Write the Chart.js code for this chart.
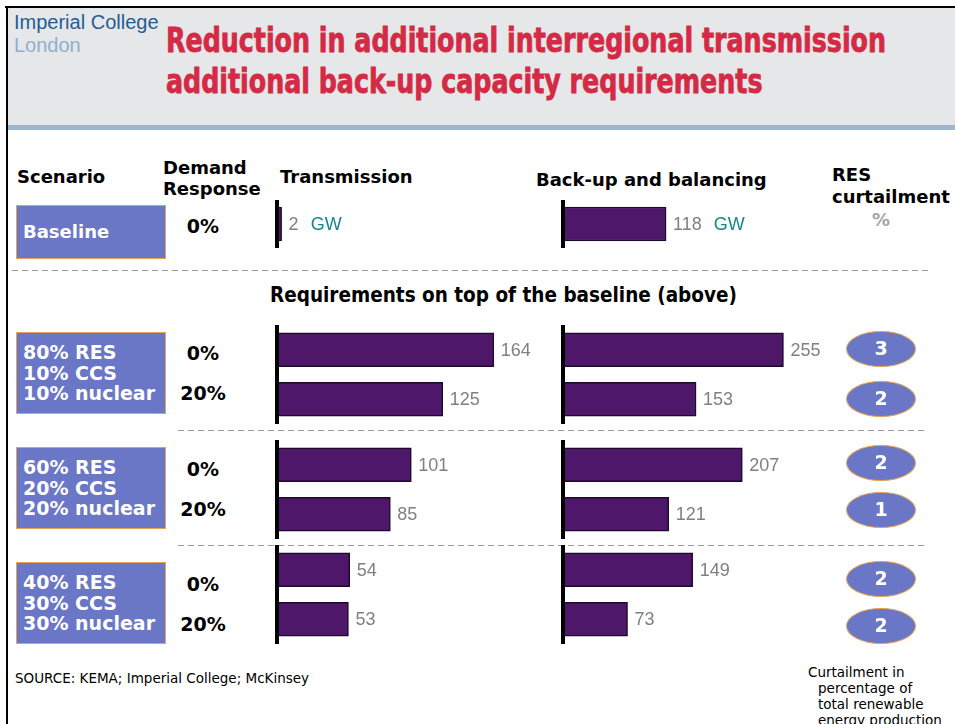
<!DOCTYPE html>
<html>
<head>
<meta charset="utf-8">
<script src="https://cdn.jsdelivr.net/npm/chart.js@4.4.1/dist/chart.umd.min.js"></script>
<style>
  html, body { margin: 0; padding: 0; background: #fff; }
  #page { position: relative; width: 955px; height: 724px; overflow: hidden; background: #fff;
          font-family: "DejaVu Sans", Verdana, sans-serif; }
  .abs { position: absolute; white-space: nowrap; }
  .hdr { font-weight: bold; font-size: 18px; line-height: 1; color: #000; }
  .box { position: absolute; left: 16px; width: 150px; box-sizing: border-box; background: #6a76c6;
         border: 1.5px solid #e4a456; color: #fff; font-weight: bold; font-size: 19px; line-height: 20.5px;
         display: flex; flex-direction: column; justify-content: center; padding-left: 6px; }
  .dr { position: absolute; width: 80px; margin-left: -40px; text-align: center; font-weight: bold; font-size: 19px; line-height: 1; }
  .dash { position: absolute; height: 1px; background: repeating-linear-gradient(to right, #9a9a9a 0 6px, transparent 6px 10px); }
  .ell { position: absolute; width: 70px; height: 36px; margin-left: -35px; margin-top: -18px; box-sizing: border-box;
         border-radius: 50%; background: #6a76c6; border: 1.5px solid #e4a456; color: #fff; font-weight: bold;
         font-size: 19px; line-height: 33px; text-align: center; }
  .cv { position: absolute; }
  .title { font-family: "Liberation Sans Narrow", "DejaVu Sans Condensed", "Liberation Sans", sans-serif; font-weight: bold;
           font-size: 34px; line-height: 1; color: #d42a45; -webkit-text-stroke: 0.8px #d42a45; transform-origin: 0 0; }
</style>
</head>
<body>
<div id="page">
  <div class="abs" style="left:5px;top:6px;width:950px;height:2px;background:#000"></div>
  <div class="abs" style="left:6px;top:6px;width:2px;height:718px;background:#000"></div>
  <div class="abs" style="left:8px;top:8px;width:947px;height:117px;background:#e6e7e8"></div>
  <div class="abs" style="left:8px;top:125px;width:947px;height:5px;background:#9db6cd"></div>

  <div class="abs" style="left:14px;top:12px;font:20px/1 'Liberation Sans',Arial,sans-serif;color:#1f5e96">Imperial College</div>
  <div class="abs" style="left:14px;top:35px;font:20px/1 'Liberation Sans',Arial,sans-serif;color:#8fb0cf">London</div>
  <div class="abs title" id="t1" style="left:166px;top:23px">Reduction in additional interregional transmission</div>
  <div class="abs title" id="t2" style="left:166px;top:64px">additional back-up capacity requirements</div>

  <div class="abs hdr" style="left:17px;top:168px">Scenario</div>
  <div class="abs hdr" style="left:163px;top:157px;line-height:21px">Demand<br>Response</div>
  <div class="abs hdr" style="left:280px;top:168px">Transmission</div>
  <div class="abs hdr" style="left:536px;top:171px">Back-up and balancing</div>
  <div class="abs hdr" style="left:832px;top:164px;line-height:22px">RES<br>curtailment</div>
  <div class="abs hdr" style="left:872px;top:211px;color:#a6a6a6">%</div>

  <div class="box" style="top:205px;height:54px;font-size:18px">Baseline</div>
  <div class="dr" style="left:203px;top:217px">0%</div>

  <div class="dash" style="left:12px;top:270px;width:918px"></div>
  <div class="abs hdr" style="left:270px;top:285px;font-size:20.5px;font-family:'DejaVu Sans Condensed','DejaVu Sans',sans-serif">Requirements on top of the baseline (above)</div>

  <div class="dash" style="left:178px;top:430px;width:750px"></div>
  <div class="dash" style="left:178px;top:545px;width:750px"></div>

  <div class="abs" style="left:15px;top:672px;font-size:13.5px;line-height:1">SOURCE: KEMA; Imperial College; McKinsey</div>
  <div class="abs" style="left:808px;top:664px;font-size:13.5px;line-height:16px">Curtailment in<br><span style="padding-left:10px">percentage of</span><br><span style="padding-left:10px">total renewable</span><br><span style="padding-left:10px">energy production</span></div>
</div>

<script>
// scenarios and values
const scenarioLabels = [
  ['80% RES', '10% CCS', '10% nuclear'],
  ['60% RES', '20% CCS', '20% nuclear'],
  ['40% RES', '30% CCS', '30% nuclear']
];
const demandLevels = ['0%', '20%'];
const baselineLevels = ['0%'];
const baselineTransmission = [2];
const baselineBackup = [118];
const transmissionGW = [164, 125, 101, 85, 54, 53];
const backupGW = [255, 153, 207, 121, 149, 73];
const curtailmentPct = [3, 2, 2, 1, 2, 2];
const unitLabel = 'GW';

// layout
const groupTops = [325, 440, 545];
const boxTops = [332, 447, 562];
const drBaselines = [[360, 400], [476, 516], [591, 631]];
const ellipseY = [349, 399, 463, 510, 579, 626];

var page = document.getElementById('page');

// fit the title lines to the width of the original
var t1 = document.getElementById('t1');
var t2 = document.getElementById('t2');
var k = 720 / t1.getBoundingClientRect().width;
t1.style.transform = 'scaleX(' + k + ')';
t2.style.transform = 'scaleX(' + k + ')';

scenarioLabels.forEach(function(lines, g) {
    var b = document.createElement('div');
    b.className = 'box';
    b.style.top = boxTops[g] + 'px';
    b.style.height = '82px';
    b.innerHTML = lines.join('<br>');
    page.appendChild(b);
    demandLevels.forEach(function(d, j) {
        var e = document.createElement('div');
        e.className = 'dr';
        e.style.left = '203px';
        e.style.top = (drBaselines[g][j] - 16) + 'px';
        e.textContent = d;
        page.appendChild(e);
    });
});

curtailmentPct.forEach(function(v, i) {
    var e = document.createElement('div');
    e.className = 'ell';
    e.style.left = '881px';
    e.style.top = ellipseY[i] + 'px';
    e.textContent = v;
    page.appendChild(e);
});

// axis line on the left and value labels after each bar
var barDecor = {
    id: 'barDecor',
    afterDatasetsDraw: function(chart, args, opts) {
        var ctx = chart.ctx;
        var a = chart.chartArea;
        ctx.save();
        ctx.fillStyle = '#000';
        ctx.fillRect(a.left - 4, 0, 4, chart.height);
        var ds = chart.data.datasets[0];
        chart.getDatasetMeta(0).data.forEach(function(bar, i) {
            var txt = String(ds.data[i]);
            var x = bar.x + 7, y = bar.y + 1;
            ctx.textBaseline = 'middle';
            ctx.font = '18px "Liberation Sans", Arial, sans-serif';
            ctx.fillStyle = '#808080';
            ctx.fillText(txt, x, y);
            if (opts.unit) {
                var w = ctx.measureText(txt).width;
                ctx.font = '18px "Liberation Sans", Arial, sans-serif';
                ctx.fillStyle = '#13878a';
                ctx.fillText(opts.unit, x + w + 12, y);
            }
        });
        ctx.restore();
    }
};

function makeChart(left, top, width, height, padL, padR, labels, values, max, unit) {
    var c = document.createElement('canvas');
    c.className = 'cv';
    c.width = width;
    c.height = height;
    c.style.left = left + 'px';
    c.style.top = top + 'px';
    c.style.width = width + 'px';
    c.style.height = height + 'px';
    page.appendChild(c);
    return new Chart(c.getContext('2d'), {
        type: 'bar',
        data: {
            labels: labels,
            datasets: [{
                data: values,
                backgroundColor: '#4e176a',
                borderColor: '#1e0b2a',
                borderWidth: 1.5,
                barThickness: 34
            }]
        },
        options: {
            indexAxis: 'y',
            responsive: false,
            animation: false,
            layout: { padding: { left: padL, right: padR, top: 0, bottom: 0 } },
            scales: {
                x: { display: false, min: 0, max: max },
                y: { display: false }
            },
            plugins: {
                legend: { display: false },
                tooltip: { enabled: false },
                barDecor: { unit: unit }
            }
        },
        plugins: [barDecor]
    });
}

// baseline row
makeChart(273, 200, 280, 48, 6, 12, baselineLevels, baselineTransmission, 200, unitLabel);
makeChart(559, 200, 320, 48, 6, 57, baselineLevels, baselineBackup, 300, unitLabel);

// scenario rows
groupTops.forEach(function(top, g) {
    makeChart(273, top, 280, 99, 6, 12, demandLevels, transmissionGW.slice(g * 2, g * 2 + 2), 200, null);
    makeChart(559, top, 320, 99, 6, 57, demandLevels, backupGW.slice(g * 2, g * 2 + 2), 300, null);
});

// keep the ellipses above the canvases
document.querySelectorAll('.ell').forEach(function(e) { page.appendChild(e); });
</script>
</body>
</html>
